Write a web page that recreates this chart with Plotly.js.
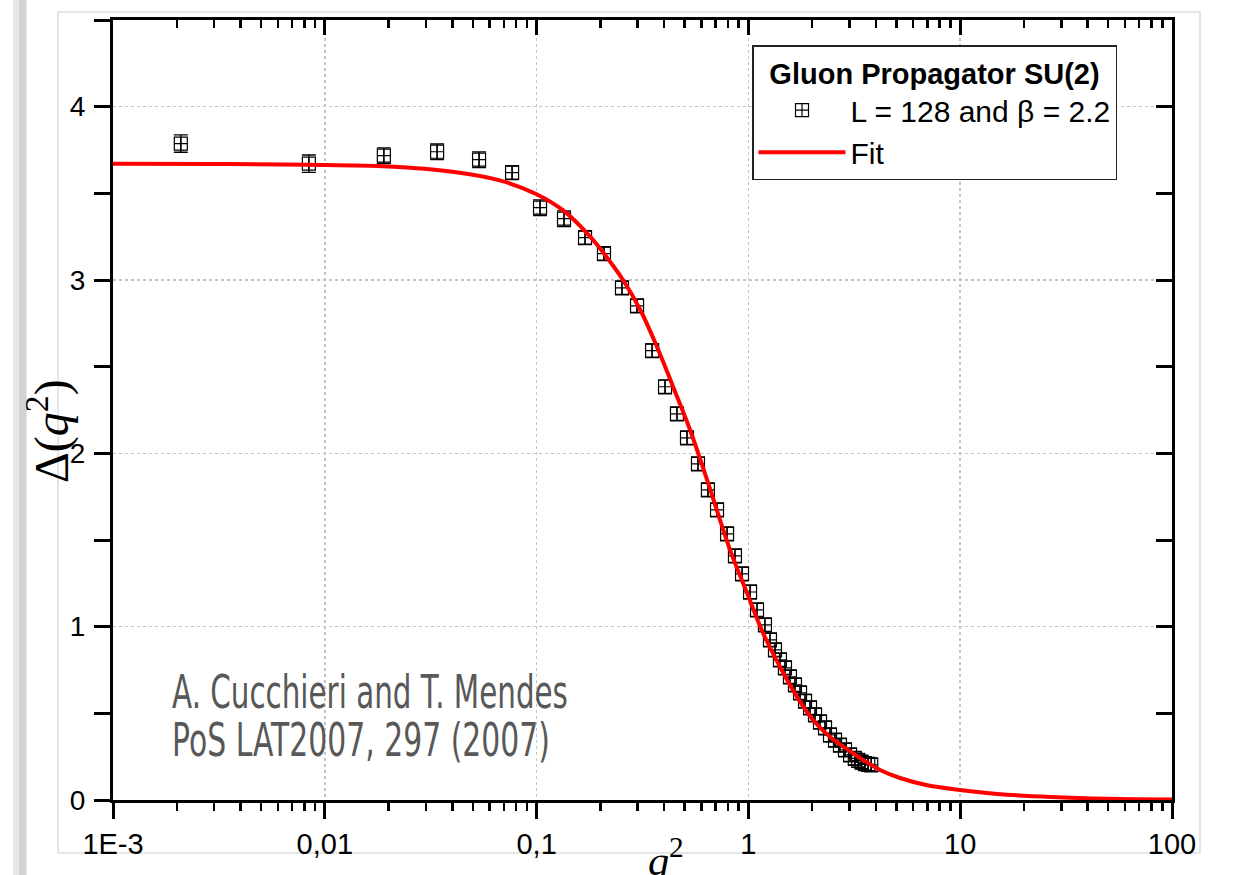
<!DOCTYPE html>
<html>
<head>
<meta charset="utf-8">
<script src="https://cdn.plot.ly/plotly-3.0.1.min.js"></script>
<style>
  html, body { margin: 0; padding: 0; background: #ffffff; }
  #chart { width: 1233px; height: 875px; }
</style>
</head>
<body>
<div id="chart"></div>
<script>
// ---- Data ----
const dataQ2 = [0.00209, 0.00841, 0.0190, 0.0339, 0.0535, 0.0766, 0.1038, 0.1347, 0.1693, 0.208,
  0.253, 0.298, 0.351, 0.404, 0.460, 0.513, 0.578, 0.644, 0.711, 0.793,
  0.864, 0.933, 1.018, 1.098, 1.197, 1.264, 1.335, 1.409, 1.488, 1.571,
  1.659, 1.753, 1.851, 1.954, 2.063, 2.178, 2.300, 2.428, 2.564, 2.706,
  2.858, 3.02, 3.18, 3.30, 3.42, 3.55, 3.68, 3.80];
const dataDelta = [3.787, 3.671, 3.717, 3.740, 3.694, 3.619, 3.417, 3.354, 3.244, 3.152,
  2.955, 2.851, 2.592, 2.384, 2.228, 2.089, 1.939, 1.789, 1.674, 1.535,
  1.408, 1.304, 1.200, 1.097, 1.010, 0.924, 0.866, 0.808, 0.762, 0.710,
  0.664, 0.618, 0.571, 0.531, 0.491, 0.450, 0.416, 0.375, 0.346, 0.317,
  0.289, 0.260, 0.240, 0.228, 0.218, 0.210, 0.206, 0.203];
const dataErr = [0.05, 0.05, 0.045, 0.045, 0.045, 0.04, 0.045, 0.045, 0.04, 0.04,
  0.04, 0.04, 0.04, 0.04, 0.04, 0.04, 0.04, 0.04, 0.04, 0.04,
  0.04, 0.04, 0.04, 0.04, 0.04, 0.04, 0.04, 0.04, 0.04, 0.04,
  0.04, 0.04, 0.04, 0.04, 0.04, 0.04, 0.04, 0.04, 0.04, 0.04,
  0.04, 0.04, 0.04, 0.04, 0.04, 0.04, 0.04, 0.04];

const fitQ2 = [0.001, 0.003, 0.0084, 0.02, 0.04, 0.067, 0.1, 0.134, 0.179, 0.218,
  0.256, 0.308, 0.37, 0.441, 0.53, 0.638, 0.819, 0.985, 1.172, 1.41,
  1.696, 2.02, 2.43, 2.92, 3.48, 4.18, 5.2, 7, 10, 15, 27, 50, 100];
const fitDelta = [3.671, 3.669, 3.665, 3.655, 3.625, 3.575, 3.495, 3.40, 3.25, 3.12,
  3.00, 2.83, 2.615, 2.384, 2.136, 1.847, 1.443, 1.195, 0.964, 0.768,
  0.595, 0.462, 0.364, 0.293, 0.231, 0.173, 0.127, 0.085, 0.058, 0.035, 0.017, 0.007, 0.003];

const xTickVals = [0.001, 0.01, 0.1, 1, 10, 100];
const xTickText = ['1E-3', '0,01', '0,1', '1', '10', '100'];
const yTickVals = [0, 1, 2, 3, 4];
const yTickText = ['0', '1', '2', '3', '4'];

const legendTitle = 'Gluon Propagator SU(2)';
const seriesName = 'L = 128 and \u03B2 = 2.2';
const fitName = 'Fit';
const creditLines = ['A. Cucchieri and T. Mendes', 'PoS LAT2007, 297 (2007)'];

// minor tick positions on the log axis (2..9 within each decade)
const xMinor = [];
for (let d = -3; d < 2; d++) {
  for (let m = 2; m <= 9; m++) xMinor.push(m * Math.pow(10, d));
}

const FONT = 'Liberation Sans, Arial, Helvetica, sans-serif';
const SERIF = 'Liberation Serif, Times New Roman, serif';

const traces = [
  {
    x: dataQ2, y: dataDelta, name: seriesName, type: 'scatter', mode: 'markers',
    marker: { symbol: 'square-cross-open', size: 13, color: '#000', line: { width: 1.2, color: '#000' } },
    error_y: { type: 'data', array: dataErr, visible: true, color: '#000', thickness: 1.4, width: 7 },
    cliponaxis: false
  },
  {
    x: fitQ2, y: fitDelta, name: fitName, type: 'scatter', mode: 'lines',
    line: { color: '#ff0000', width: 4, shape: 'spline', smoothing: 1 }
  },
  { x: [], y: [], xaxis: 'x2', yaxis: 'y2', showlegend: false, hoverinfo: 'skip', type: 'scatter' }
];

const W = 1059, H = 780, L = 113, T = 20;
const px = v => (v - L) / W;
const py = v => (T + H - v) / H;

const layout = {
  width: 1233, height: 875,
  margin: { l: 113, r: 61, t: 20, b: 75 },
  paper_bgcolor: '#ffffff', plot_bgcolor: '#ffffff',
  showlegend: true,
  xaxis: {
    type: 'log', range: [-3, 2], autorange: false,
    tickmode: 'array', tickvals: xTickVals, ticktext: xTickText,
    ticks: 'outside', ticklen: 16, tickwidth: 3, tickcolor: '#000',
    ticklabelstandoff: 0,
    minor: { tickmode: 'array', tickvals: xMinor, ticks: 'outside', ticklen: 8, tickwidth: 2.5, tickcolor: '#000', showgrid: false },
    showline: true, linewidth: 3, linecolor: '#000',
    showgrid: true, gridcolor: '#c4c4c4', griddash: 'dot', gridwidth: 1.5,
    zeroline: false,
    tickfont: { family: FONT, size: 29, color: '#000' }
  },
  xaxis2: {
    type: 'log', range: [-3, 2], autorange: false, overlaying: 'x', anchor: 'y2', side: 'top',
    tickmode: 'array', tickvals: xTickVals, showticklabels: false,
    ticks: 'inside', ticklen: 15, tickwidth: 3, tickcolor: '#000',
    minor: { tickmode: 'array', tickvals: xMinor, ticks: 'inside', ticklen: 8, tickwidth: 2.5, tickcolor: '#000', showgrid: false },
    showline: true, linewidth: 3, linecolor: '#000', showgrid: false, zeroline: false
  },
  yaxis: {
    range: [0, 4.5], autorange: false,
    tickmode: 'array', tickvals: yTickVals, ticktext: yTickText,
    ticks: 'outside', ticklen: 16, tickwidth: 3, tickcolor: '#000',
    ticklabelstandoff: 3,
    minor: { dtick: 0.5, ticks: 'outside', ticklen: 16, tickwidth: 3, tickcolor: '#000', showgrid: false },
    showline: true, linewidth: 3, linecolor: '#000',
    showgrid: true, gridcolor: '#c4c4c4', griddash: 'dot', gridwidth: 1.5,
    zeroline: false,
    tickfont: { family: FONT, size: 28, color: '#000' }
  },
  yaxis2: {
    range: [0, 4.5], autorange: false, overlaying: 'y', anchor: 'x', side: 'right',
    tickmode: 'array', tickvals: yTickVals, showticklabels: false,
    ticks: 'inside', ticklen: 16, tickwidth: 3, tickcolor: '#000',
    minor: { dtick: 0.5, ticks: 'inside', ticklen: 16, tickwidth: 3, tickcolor: '#000', showgrid: false },
    showline: true, linewidth: 3, linecolor: '#000', showgrid: false, zeroline: false
  },
  legend: {
    x: px(752), y: py(45), xanchor: 'left', yanchor: 'top',
    bgcolor: '#ffffff', bordercolor: '#222', borderwidth: 1.5,
    font: { family: FONT, size: 30, color: '#000' },
    title: { text: '<b>' + legendTitle + '</b>', side: 'top center', font: { family: FONT, size: 29, color: '#000' } },
    itemwidth: 87, tracegroupgap: 0
  },
  shapes: [
    { type: 'rect', xref: 'paper', yref: 'paper', x0: px(58), x1: px(1200), y0: py(853), y1: py(12),
      line: { color: '#dedede', width: 1.5 }, fillcolor: 'rgba(0,0,0,0)', layer: 'below' },
    { type: 'rect', xref: 'paper', yref: 'paper', x0: px(13), x1: px(27), y0: py(900), y1: py(-20),
      line: { width: 0 }, fillcolor: '#e6e6e6', layer: 'below' },
    { type: 'rect', xref: 'paper', yref: 'paper', x0: px(19), x1: px(26), y0: py(900), y1: py(-20),
      line: { width: 0 }, fillcolor: '#d2d2d2', layer: 'below' }
  ],
  annotations: [
    { xref: 'paper', yref: 'paper', x: px(666), y: py(857), xanchor: 'center', yanchor: 'middle',
      text: '<i>q</i><sup>2</sup>', showarrow: false,
      font: { family: SERIF, size: 42, color: '#000' } },
    { xref: 'paper', yref: 'paper', x: px(48), y: py(431), xanchor: 'center', yanchor: 'middle',
      text: '\u0394(<i>q</i><sup>2</sup>)', textangle: -90, showarrow: false,
      font: { family: SERIF, size: 48, color: '#000' } },
    { xref: 'paper', yref: 'paper', x: px(170), y: py(692), xanchor: 'left', yanchor: 'middle',
      text: creditLines[0], showarrow: false,
      font: { family: 'DejaVu Sans, sans-serif', size: 46, color: '#585858' } },
    { xref: 'paper', yref: 'paper', x: px(170), y: py(740), xanchor: 'left', yanchor: 'middle',
      text: creditLines[1], showarrow: false,
      font: { family: 'DejaVu Sans, sans-serif', size: 46, color: '#585858' } }
  ]
};

Plotly.newPlot('chart', traces, layout, { displayModeBar: false, staticPlot: true }).then(gd => {
  // Condense the credit lines horizontally to mimic the narrow typeface
  const targets = {};
  targets[creditLines[0]] = 396;
  targets[creditLines[1]] = 378;
  gd.querySelectorAll('text.annotation-text').forEach(t => {
    const w = targets[t.textContent];
    if (!w) return;
    const bb = t.getBBox();
    const s = w / bb.width;
    const prev = t.getAttribute('transform') || '';
    t.setAttribute('transform', prev + ' translate(' + bb.x + ',0) scale(' + s + ',1) translate(' + (-bb.x) + ',0)');
  });
});
</script>
</body>
</html>
